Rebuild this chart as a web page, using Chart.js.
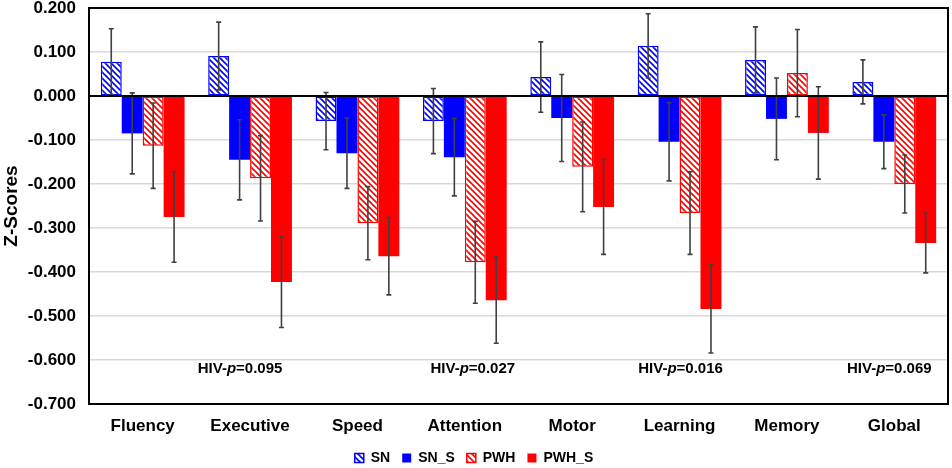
<!DOCTYPE html>
<html>
<head>
<meta charset="utf-8">
<script src="https://cdn.jsdelivr.net/npm/chart.js@4.4.1/dist/chart.umd.min.js"></script>
<style>
  html, body { margin: 0; padding: 0; background: #fff; }
  #wrap { width: 952px; height: 468px; position: relative; }
</style>
</head>
<body>
<div id="wrap"><canvas id="zChart"></canvas></div>
<script>
// Domains
const categories = ['Fluency', 'Executive', 'Speed', 'Attention', 'Motor', 'Learning', 'Memory', 'Global'];

// Mean z-scores per group
const snValues   = [0.078, 0.091, -0.057, -0.057, 0.043, 0.114, 0.082, 0.032];
const snsValues  = [-0.085, -0.145, -0.130, -0.139, -0.050, -0.104, -0.052, -0.104];
const pwhValues  = [-0.113, -0.187, -0.289, -0.378, -0.161, -0.266, 0.052, -0.200];
const pwhsValues = [-0.275, -0.423, -0.364, -0.464, -0.252, -0.484, -0.084, -0.334];

// Error bar half-lengths
const snErr   = [0.075, 0.077, 0.065, 0.074, 0.080, 0.073, 0.075, 0.050];
const snsErr  = [0.092, 0.091, 0.080, 0.088, 0.099, 0.089, 0.093, 0.061];
const pwhErr  = [0.097, 0.097, 0.083, 0.093, 0.102, 0.094, 0.099, 0.066];
const pwhsErr = [0.103, 0.103, 0.088, 0.098, 0.108, 0.100, 0.105, 0.068];

// HIV p-value notes
const noteCats  = ['Executive', 'Attention', 'Learning', 'Global'];
const notePVals = ['0.095', '0.027', '0.016', '0.069'];

const yTicks = { min: -0.7, max: 0.2, step: 0.1 };

const BLUE = '#0000FF';
const RED = '#FF0000';
const FONT = 'Arial, "Liberation Sans", sans-serif';

function makeHatch(color) {
    const size = 6;
    const c = document.createElement('canvas');
    c.width = size; c.height = size;
    const g = c.getContext('2d');
    g.fillStyle = '#fff';
    g.fillRect(0, 0, size, size);
    g.strokeStyle = color;
    g.lineWidth = 1.6;
    g.beginPath();
    g.moveTo(-1, -1); g.lineTo(size + 1, size + 1);
    g.moveTo(-1, size - 1); g.lineTo(1, size + 1);
    g.moveTo(size - 1, -1); g.lineTo(size + 1, 1);
    g.stroke();
    return g.createPattern(c, 'repeat');
}

const blueHatch = makeHatch(BLUE);
const redHatch = makeHatch(RED);

// error bars drawn from the y scale
const errorBars = {
    id: 'errorBars',
    afterDatasetsDraw(chart) {
        const ctx = chart.ctx;
        const y = chart.scales.y;
        ctx.save();
        ctx.strokeStyle = '#404040';
        ctx.lineWidth = 1.6;
        chart.data.datasets.forEach((ds, i) => {
            const meta = chart.getDatasetMeta(i);
            meta.data.forEach((bar, j) => {
                const v = ds.data[j], e = ds.errors[j];
                const top = y.getPixelForValue(v + e);
                const bot = y.getPixelForValue(v - e);
                ctx.beginPath();
                ctx.moveTo(bar.x, top); ctx.lineTo(bar.x, bot);
                ctx.moveTo(bar.x - 2.5, top); ctx.lineTo(bar.x + 2.5, top);
                ctx.moveTo(bar.x - 2.5, bot); ctx.lineTo(bar.x + 2.5, bot);
                ctx.stroke();
            });
        });
        ctx.restore();
    }
};

// frame + zero line + p-value notes
const frameAndNotes = {
    id: 'frameAndNotes',
    afterDraw(chart) {
        const ctx = chart.ctx;
        const a = chart.chartArea;
        const x = chart.scales.x, y = chart.scales.y;
        ctx.save();
        ctx.strokeStyle = '#000';
        ctx.lineWidth = 2;
        ctx.strokeRect(a.left, a.top, a.right - a.left, a.bottom - a.top);
        const y0 = y.getPixelForValue(0);
        ctx.beginPath();
        ctx.moveTo(a.left, y0); ctx.lineTo(a.right, y0);
        ctx.stroke();

        const offsets = [-10, 8, 1, -5];
        ctx.fillStyle = '#000';
        ctx.textBaseline = 'middle';
        noteCats.forEach((cat, i) => {
            const cx = x.getPixelForValue(categories.indexOf(cat)) + offsets[i];
            const cy = y.getPixelForValue(-0.62);
            const parts = [['HIV-', 'bold 15px ' + FONT], ['p', 'italic bold 15px ' + FONT], ['=' + notePVals[i], 'bold 15px ' + FONT]];
            let w = 0;
            parts.forEach(p => { ctx.font = p[1]; w += ctx.measureText(p[0]).width; });
            let px = cx - w / 2;
            parts.forEach(p => {
                ctx.font = p[1];
                ctx.textAlign = 'left';
                ctx.fillText(p[0], px, cy);
                px += ctx.measureText(p[0]).width;
            });
        });
        ctx.restore();
    }
};

const ctx = document.getElementById('zChart').getContext('2d');
new Chart(ctx, {
    type: 'bar',
    data: {
        labels: categories,
        datasets: [
            { label: 'SN', data: snValues, errors: snErr, backgroundColor: blueHatch, borderColor: BLUE, borderWidth: 1.5 },
            { label: 'SN_S', data: snsValues, errors: snsErr, backgroundColor: BLUE, borderColor: BLUE, borderWidth: 0 },
            { label: 'PWH', data: pwhValues, errors: pwhErr, backgroundColor: redHatch, borderColor: RED, borderWidth: 1.5 },
            { label: 'PWH_S', data: pwhsValues, errors: pwhsErr, backgroundColor: RED, borderColor: RED, borderWidth: 0 }
        ]
    },
    options: {
        responsive: true,
        maintainAspectRatio: false,
        animation: false,
        layout: { padding: { top: 8, right: 4, left: 0, bottom: -7 } },
        datasets: {
            bar: { categoryPercentage: 0.78, barPercentage: 1.0, borderSkipped: false }
        },
        plugins: {
            legend: {
                position: 'bottom',
                labels: {
                    font: { family: FONT, size: 14, weight: 'bold' },
                    color: '#000',
                    boxWidth: 9,
                    boxHeight: 9,
                    padding: 12
                }
            },
            tooltip: { enabled: false }
        },
        scales: {
            x: {
                afterFit(scale) { scale.height = 35; },
                grid: { display: false, drawTicks: false },
                border: { display: true, color: '#000', width: 2 },
                ticks: { font: { family: FONT, size: 17, weight: 'bold' }, color: '#000', padding: 12 }
            },
            y: {
                min: yTicks.min,
                max: yTicks.max,
                afterFit(scale) { scale.width = 89; scale.paddingTop = 0; scale.paddingBottom = 0; },
                afterBuildTicks(scale) {
                    const t = [];
                    for (let v = yTicks.min; v <= yTicks.max + 1e-9; v += yTicks.step) t.push({ value: Math.round(v * 1000) / 1000 });
                    scale.ticks = t;
                },
                border: { display: true, color: '#000', width: 2 },
                grid: { color: '#d9d9d9', lineWidth: 1.5, drawTicks: false },
                ticks: {
                    font: { family: FONT, size: 17, weight: 'bold' },
                    color: '#000',
                    padding: 13,
                    callback: v => v.toFixed(3)
                },
                title: {
                    display: true,
                    text: 'Z-Scores',
                    font: { family: FONT, size: 19, weight: 'bold' },
                    color: '#000',
                    padding: { top: 0, bottom: 0 }
                }
            }
        }
    },
    plugins: [errorBars, frameAndNotes]
});
</script>
</body>
</html>
